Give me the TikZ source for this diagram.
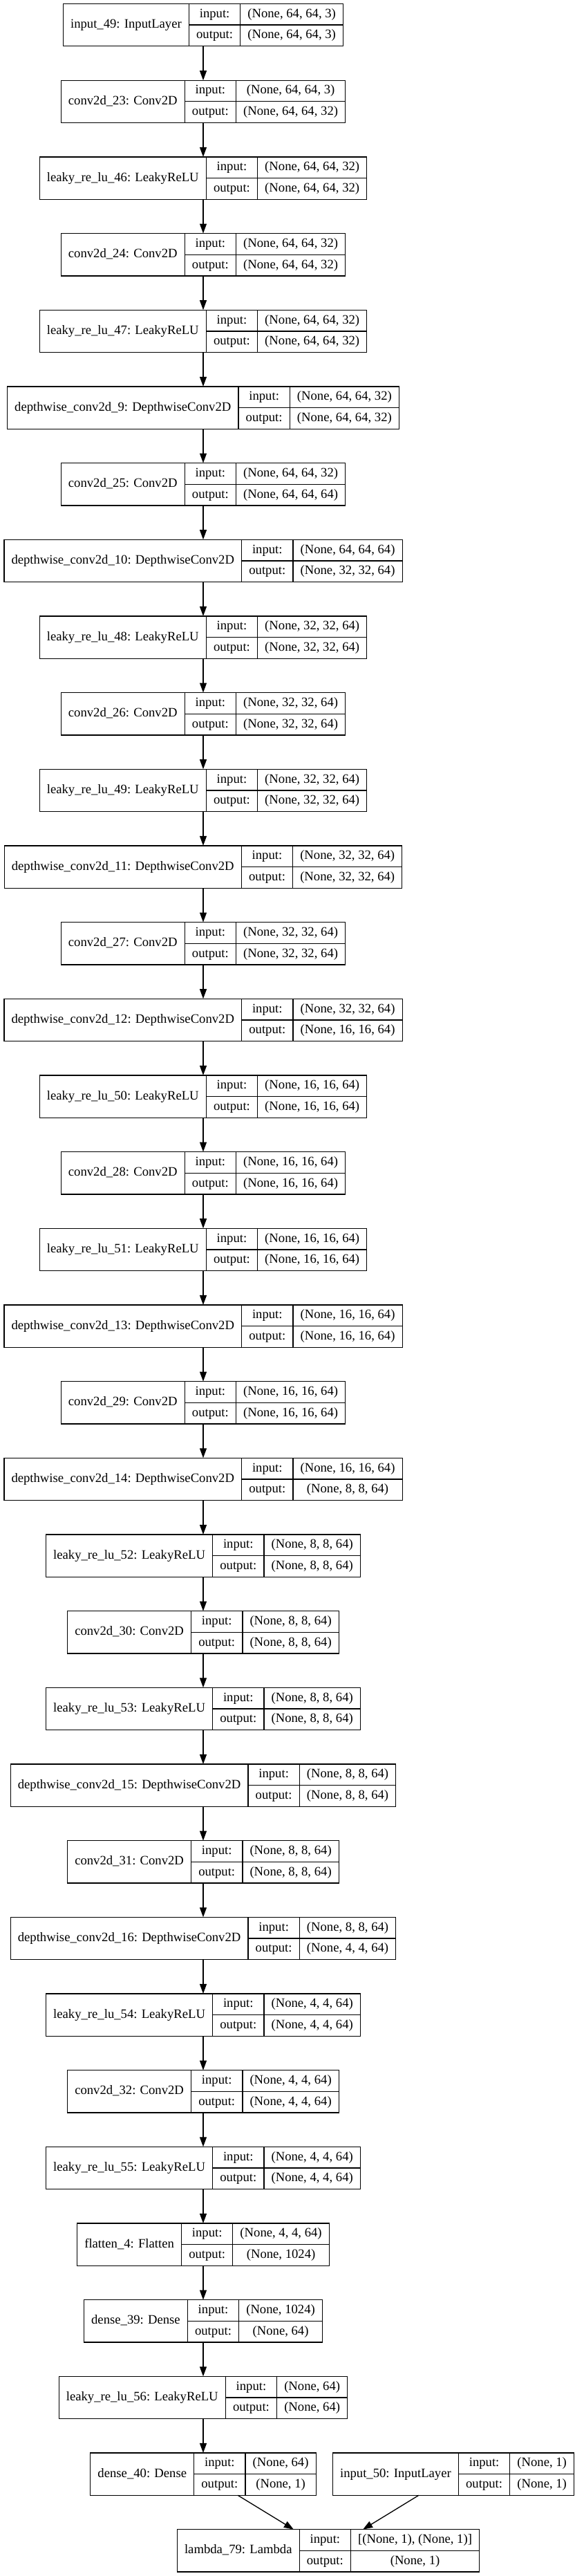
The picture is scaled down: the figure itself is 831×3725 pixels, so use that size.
\documentclass[tikz,border=0pt]{standalone}
\usepackage{fontspec}
\setmainfont{Liberation Serif}
\usetikzlibrary{arrows.meta}
\newlength\wN \newlength\wL \newlength\wV \newlength\wI \newlength\wT
\newcommand\lf{\fontsize{18.67pt}{22pt}\selectfont}
\newsavebox\measbox
\tikzset{
  rec/.style={draw=black, line width=1.33pt, minimum height=61.33pt, inner sep=0pt, outer sep=0pt},
  sep/.style={draw=black, line width=1.33pt},
  txt/.style={inner sep=0pt, font=\lf, text height=13pt, text depth=4pt, anchor=center},
  arr/.style={draw=black, line width=1.33pt, -{Triangle[length=14pt,width=10pt]}}
}
% #1 id, #2 centre x, #3 row, #4 name, #5 input, #6 output
\newcommand\layer[6]{%
  \pgfinterruptpicture
    \sbox\measbox{\normalfont\lf #4}\global\wN=\wd\measbox
    \sbox\measbox{\normalfont\lf output:}\global\wL=\wd\measbox
    \sbox\measbox{\normalfont\lf #5}\global\wI=\wd\measbox
    \sbox\measbox{\normalfont\lf #6}\global\wV=\wd\measbox
  \endpgfinterruptpicture
  \addtolength\wN{21.33pt}%
  \addtolength\wL{21.33pt}%
  \ifdim\wI>\wV \setlength\wV{\wI}\fi
  \addtolength\wV{21.33pt}%
  \setlength\wT{\wN}\addtolength\wT{\wL}\addtolength\wT{\wV}%
  \node[rec, minimum width=\wT, anchor=north] (#1) at ({#2},{5.5+#3*110.67}) {};
  \draw[sep] ([xshift=\wN]#1.north west) -- ([xshift=\wN]#1.south west);
  \draw[sep] ([xshift=\wN+\wL]#1.north west) -- ([xshift=\wN+\wL]#1.south west);
  \draw[sep] ([xshift=\wN]#1.west) -- (#1.east);
  \node[txt] (#1-name) at ([xshift=0.5*\wN]#1.west) {#4};
  \node[txt] (#1-il) at ([xshift=\wN+0.5*\wL, yshift=-15.33pt]#1.north west) {input:};
  \node[txt] (#1-ol) at ([xshift=\wN+0.5*\wL, yshift=15.33pt]#1.south west) {output:};
  \node[txt] (#1-iv) at ([xshift=\wN+\wL+0.5*\wV, yshift=-15.33pt]#1.north west) {#5};
  \node[txt] (#1-ov) at ([xshift=\wN+\wL+0.5*\wV, yshift=15.33pt]#1.south west) {#6};
}
\begin{document}
\begin{tikzpicture}[x=1pt, y=-1pt]
\useasboundingbox (0,0) rectangle (831,3725);
\layer{n0}{294}{0}{input\_49: InputLayer}{(None, 64, 64, 3)}{(None, 64, 64, 3)}
\layer{n1}{294}{1}{conv2d\_23: Conv2D}{(None, 64, 64, 3)}{(None, 64, 64, 32)}
\layer{n2}{294}{2}{leaky\_re\_lu\_46: LeakyReLU}{(None, 64, 64, 32)}{(None, 64, 64, 32)}
\layer{n3}{294}{3}{conv2d\_24: Conv2D}{(None, 64, 64, 32)}{(None, 64, 64, 32)}
\layer{n4}{294}{4}{leaky\_re\_lu\_47: LeakyReLU}{(None, 64, 64, 32)}{(None, 64, 64, 32)}
\layer{n5}{294}{5}{depthwise\_conv2d\_9: DepthwiseConv2D}{(None, 64, 64, 32)}{(None, 64, 64, 32)}
\layer{n6}{294}{6}{conv2d\_25: Conv2D}{(None, 64, 64, 32)}{(None, 64, 64, 64)}
\layer{n7}{294}{7}{depthwise\_conv2d\_10: DepthwiseConv2D}{(None, 64, 64, 64)}{(None, 32, 32, 64)}
\layer{n8}{294}{8}{leaky\_re\_lu\_48: LeakyReLU}{(None, 32, 32, 64)}{(None, 32, 32, 64)}
\layer{n9}{294}{9}{conv2d\_26: Conv2D}{(None, 32, 32, 64)}{(None, 32, 32, 64)}
\layer{n10}{294}{10}{leaky\_re\_lu\_49: LeakyReLU}{(None, 32, 32, 64)}{(None, 32, 32, 64)}
\layer{n11}{294}{11}{depthwise\_conv2d\_11: DepthwiseConv2D}{(None, 32, 32, 64)}{(None, 32, 32, 64)}
\layer{n12}{294}{12}{conv2d\_27: Conv2D}{(None, 32, 32, 64)}{(None, 32, 32, 64)}
\layer{n13}{294}{13}{depthwise\_conv2d\_12: DepthwiseConv2D}{(None, 32, 32, 64)}{(None, 16, 16, 64)}
\layer{n14}{294}{14}{leaky\_re\_lu\_50: LeakyReLU}{(None, 16, 16, 64)}{(None, 16, 16, 64)}
\layer{n15}{294}{15}{conv2d\_28: Conv2D}{(None, 16, 16, 64)}{(None, 16, 16, 64)}
\layer{n16}{294}{16}{leaky\_re\_lu\_51: LeakyReLU}{(None, 16, 16, 64)}{(None, 16, 16, 64)}
\layer{n17}{294}{17}{depthwise\_conv2d\_13: DepthwiseConv2D}{(None, 16, 16, 64)}{(None, 16, 16, 64)}
\layer{n18}{294}{18}{conv2d\_29: Conv2D}{(None, 16, 16, 64)}{(None, 16, 16, 64)}
\layer{n19}{294}{19}{depthwise\_conv2d\_14: DepthwiseConv2D}{(None, 16, 16, 64)}{(None, 8, 8, 64)}
\layer{n20}{294}{20}{leaky\_re\_lu\_52: LeakyReLU}{(None, 8, 8, 64)}{(None, 8, 8, 64)}
\layer{n21}{294}{21}{conv2d\_30: Conv2D}{(None, 8, 8, 64)}{(None, 8, 8, 64)}
\layer{n22}{294}{22}{leaky\_re\_lu\_53: LeakyReLU}{(None, 8, 8, 64)}{(None, 8, 8, 64)}
\layer{n23}{294}{23}{depthwise\_conv2d\_15: DepthwiseConv2D}{(None, 8, 8, 64)}{(None, 8, 8, 64)}
\layer{n24}{294}{24}{conv2d\_31: Conv2D}{(None, 8, 8, 64)}{(None, 8, 8, 64)}
\layer{n25}{294}{25}{depthwise\_conv2d\_16: DepthwiseConv2D}{(None, 8, 8, 64)}{(None, 4, 4, 64)}
\layer{n26}{294}{26}{leaky\_re\_lu\_54: LeakyReLU}{(None, 4, 4, 64)}{(None, 4, 4, 64)}
\layer{n27}{294}{27}{conv2d\_32: Conv2D}{(None, 4, 4, 64)}{(None, 4, 4, 64)}
\layer{n28}{294}{28}{leaky\_re\_lu\_55: LeakyReLU}{(None, 4, 4, 64)}{(None, 4, 4, 64)}
\layer{n29}{294}{29}{flatten\_4: Flatten}{(None, 4, 4, 64)}{(None, 1024)}
\layer{n30}{294}{30}{dense\_39: Dense}{(None, 1024)}{(None, 64)}
\layer{n31}{294}{31}{leaky\_re\_lu\_56: LeakyReLU}{(None, 64)}{(None, 64)}
\layer{n32}{294}{32}{dense\_40: Dense}{(None, 64)}{(None, 1)}
\layer{in50}{656}{32}{input\_50: InputLayer}{(None, 1)}{(None, 1)}
\layer{n33}{475}{33}{lambda\_79: Lambda}{[(None, 1), (None, 1)]}{(None, 1)}
\foreach \a [count=\b] in {0,...,31} {
  \draw[arr] (n\a) -- (n\b);
}
\draw[arr] (n32) -- (n33);
\draw[arr] (in50) -- (n33);
\end{tikzpicture}
\end{document}
